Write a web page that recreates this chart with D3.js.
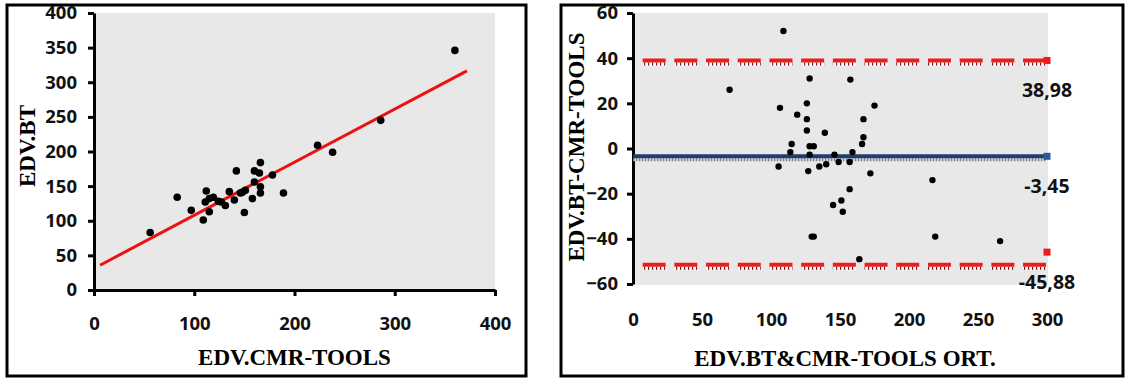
<!DOCTYPE html>
<html>
<head>
<meta charset="utf-8">
<script src="https://cdn.jsdelivr.net/npm/d3@7"></script>
<style>
  body { margin: 0; background: #fff; }
  #chart svg { display: block; }
</style>
</head>
<body>
<div id="chart"></div>
<script>
// Left panel: EDV by BT vs CMR-TOOLS
const edvCmr = [56, 83, 97, 109, 112, 111, 115, 119, 124, 131, 135, 140, 142, 146, 150, 151, 158, 160,
  160, 166, 165, 166, 166, 178, 189, 223, 238, 286, 360, 115, 127, 148];
const edvBt = [83, 134, 115, 101, 143, 127, 113, 134, 128, 122, 142, 130, 172, 140, 112, 144, 132, 156,
  172, 184, 169, 149, 140, 166, 140, 209, 199, 245, 346, 132, 127, 141];
const fitSlope = 0.767;
const fitIntercept = 31.2;
const fitRange = [6, 372];
const leftTicksY = [0, 50, 100, 150, 200, 250, 300, 350, 400];
const leftTicksX = [0, 100, 200, 300, 400];

// Right panel: Bland-Altman, mean of the two methods vs difference
const meanEdv = [109, 70, 128, 157.5, 106.5, 126, 119, 126, 175, 167, 126, 139, 167, 166, 115, 128, 131,
  114, 128, 146, 159, 149, 157, 105.5, 135, 140, 127, 172, 157, 151, 145, 152, 129.5, 131, 164, 217, 219, 266];
const diffEdv = [52, 26, 31, 30.5, 18, 20, 15, 13, 19, 13, 8, 7, 5, 2, 2, 1, 1,
  -1.6, -2.7, -2.7, -1.6, -6, -6, -8, -8, -7, -10, -11, -18, -23, -25, -28, -39, -39, -49, -14, -39, -41];
const limitValues = [38.98, -3.45, -45.88];
const limitLabels = ["38,98", "-3,45", "-45,88"];
const limitLineLevels = [38.98, -3.45, -51.5]; // where the drawn lines sit
const limitColors = ["#ee1c1c", "#1f3c6e", "#ee1c1c"];
const rightTicksY = [-60, -40, -20, 0, 20, 40, 60];
const rightTicksX = [0, 50, 100, 150, 200, 250, 300];

const width = 1128;
const height = 381;
const tickFont = "'Open Sans', Lato, sans-serif";
const titleFont = "'Liberation Serif', 'Times New Roman', serif";

const svg = d3.create("svg")
    .attr("width", width)
    .attr("height", height)
    .attr("viewBox", [0, 0, width, height]);

const defs = svg.append("defs");

// little comb under the dashed lines (Excel marker artefact)
const redComb = defs.append("pattern")
    .attr("id", "redComb")
    .attr("patternUnits", "userSpaceOnUse")
    .attr("width", 4).attr("height", 4);
redComb.append("rect").attr("width", 4).attr("height", 4).attr("fill", "#fff");
redComb.append("rect").attr("width", 1.2).attr("height", 4).attr("fill", "#7a1a1a");

const blueComb = defs.append("pattern")
    .attr("id", "blueComb")
    .attr("patternUnits", "userSpaceOnUse")
    .attr("width", 3).attr("height", 4);
blueComb.append("rect").attr("width", 3).attr("height", 4).attr("fill", "#d2d4d8");
blueComb.append("rect").attr("width", 1.2).attr("height", 4).attr("fill", "#7b8290");

// panel frames
svg.append("rect")
    .attr("x", 7).attr("y", 5).attr("width", 519).attr("height", 371)
    .attr("fill", "none").attr("stroke", "#000").attr("stroke-width", 3);
svg.append("rect")
    .attr("x", 561).attr("y", 5).attr("width", 562).attr("height", 371)
    .attr("fill", "none").attr("stroke", "#000").attr("stroke-width", 3);

function styleAxis(g) {
  g.selectAll("text")
      .attr("font-family", tickFont)
      .attr("font-weight", 700)
      .attr("font-size", 18.5)
      .attr("fill", "#111");
  g.selectAll("line").attr("stroke", "#000").attr("stroke-width", 3);
  g.select(".domain").attr("stroke", "#000").attr("stroke-width", 3);
}

// ---------- left panel ----------
const xL = d3.scaleLinear([0, 400], [94, 495]);
const yL = d3.scaleLinear([0, 400], [290, 13]);

svg.append("rect")
    .attr("x", xL(0)).attr("y", yL(400))
    .attr("width", xL(400) - xL(0)).attr("height", yL(0) - yL(400))
    .attr("fill", "#e8e8e8");

svg.append("g")
    .attr("transform", `translate(${xL(0)},0)`)
    .call(d3.axisLeft(yL).tickValues(leftTicksY).tickSize(6).tickSizeOuter(0).tickPadding(11))
    .call(styleAxis);

svg.append("g")
    .attr("transform", `translate(0,${yL(0)})`)
    .call(d3.axisBottom(xL).tickValues(leftTicksX).tickSize(6).tickSizeOuter(0).tickPadding(21))
    .call(styleAxis);

svg.append("line")
    .attr("x1", xL(fitRange[0])).attr("y1", yL(fitSlope * fitRange[0] + fitIntercept))
    .attr("x2", xL(fitRange[1])).attr("y2", yL(fitSlope * fitRange[1] + fitIntercept))
    .attr("stroke", "#ee1111").attr("stroke-width", 3);

svg.append("g")
    .selectAll("circle")
    .data(d3.range(edvCmr.length))
    .join("circle")
    .attr("cx", i => xL(edvCmr[i]))
    .attr("cy", i => yL(edvBt[i]))
    .attr("r", 3.8)
    .attr("fill", "#000");

svg.append("text")
    .attr("x", (xL(0) + xL(400)) / 2).attr("y", 365)
    .attr("text-anchor", "middle")
    .attr("font-family", titleFont).attr("font-weight", 700).attr("font-size", 23)
    .text("EDV.CMR-TOOLS");

svg.append("text")
    .attr("transform", "translate(35,146) rotate(-90)")
    .attr("text-anchor", "middle")
    .attr("font-family", titleFont).attr("font-weight", 700).attr("font-size", 23)
    .text("EDV.BT");

// ---------- right panel ----------
const xR = d3.scaleLinear([0, 300], [633, 1047]);
const yR = d3.scaleLinear([-60, 60], [284, 13]);

svg.append("rect")
    .attr("x", xR(0)).attr("y", yR(60))
    .attr("width", xR(300) - xR(0) + 1).attr("height", yR(-60) - yR(60) + 1)
    .attr("fill", "#e8e8e8");

svg.append("g")
    .attr("transform", `translate(${xR(0)},0)`)
    .call(d3.axisLeft(yR).tickValues(rightTicksY).tickSize(6).tickSizeOuter(0).tickPadding(9))
    .call(styleAxis);

svg.append("g")
    .attr("transform", `translate(0,${yR(-60)})`)
    .call(d3.axisBottom(xR).tickValues(rightTicksX).tickSize(0).tickPadding(29))
    .call(styleAxis)
    .call(g => g.select(".domain").remove());

// limit lines with their comb underneath
limitLineLevels.forEach((v, i) => {
  const dashed = i !== 1;
  const x1 = dashed ? xR(7) : xR(0);
  const x2 = xR(300);
  const y = yR(v);
  svg.append("line")
      .attr("x1", x1).attr("x2", x2)
      .attr("y1", y + 3.5).attr("y2", y + 3.5)
      .attr("stroke", dashed ? "url(#redComb)" : "url(#blueComb)")
      .attr("stroke-width", 3)
      .attr("stroke-dasharray", dashed ? "23,8.7" : null);
  svg.append("line")
      .attr("x1", x1).attr("x2", x2)
      .attr("y1", y).attr("y2", y)
      .attr("stroke", limitColors[i])
      .attr("stroke-width", 4)
      .attr("stroke-dasharray", dashed ? "23,8.7" : null);
});

// end markers and values
svg.append("g")
    .selectAll("rect")
    .data(limitValues)
    .join("rect")
    .attr("x", xR(300) - 3.5)
    .attr("y", d => yR(d) - 3.5)
    .attr("width", 7).attr("height", 7)
    .attr("fill", (d, i) => limitColors[i] === "#1f3c6e" ? "#2b5a9a" : limitColors[i]);

svg.append("g")
    .selectAll("text")
    .data(limitValues)
    .join("text")
    .attr("x", xR(300))
    .attr("y", d => yR(d) + 37)
    .attr("text-anchor", "middle")
    .attr("font-family", tickFont).attr("font-weight", 700).attr("font-size", 19.5)
    .attr("fill", "#111")
    .text((d, i) => limitLabels[i]);

svg.append("g")
    .selectAll("circle")
    .data(d3.range(meanEdv.length))
    .join("circle")
    .attr("cx", i => xR(meanEdv[i]))
    .attr("cy", i => yR(diffEdv[i]))
    .attr("r", 3.2)
    .attr("fill", "#000");

svg.append("text")
    .attr("x", (xR(0) + xR(300)) / 2 + 5).attr("y", 366)
    .attr("text-anchor", "middle")
    .attr("font-family", titleFont).attr("font-weight", 700).attr("font-size", 23)
    .text("EDV.BT&CMR-TOOLS ORT.");

svg.append("text")
    .attr("transform", "translate(584,147) rotate(-90)")
    .attr("text-anchor", "middle")
    .attr("font-family", titleFont).attr("font-weight", 700).attr("font-size", 23)
    .text("EDV.BT-CMR-TOOLS");

d3.select("#chart").node().appendChild(svg.node());
</script>
</body>
</html>
